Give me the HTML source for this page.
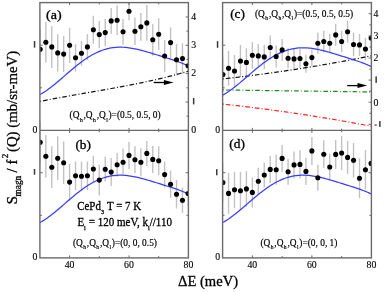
<!DOCTYPE html><html><head><meta charset="utf-8"><style>html,body{margin:0;padding:0;background:#fff;overflow:hidden;}svg{display:block;will-change:transform;}text{font-family:"Liberation Serif",serif;fill:#000;stroke:#000;stroke-width:0.3px;}</style></head><body>
<svg width="384" height="292" viewBox="0 0 384 292">
<defs><clipPath id="cl"><rect x="39.9" y="2.6" width="148.5" height="255.3"/></clipPath><clipPath id="cr"><rect x="222.6" y="2.6" width="148.8" height="255.3"/></clipPath></defs>
<g clip-path="url(#cl)">
<g stroke="#c2c2c2" stroke-width="1.4">
<line x1="39.90" y1="29.20" x2="39.90" y2="69.20"/>
<line x1="45.84" y1="22.00" x2="45.84" y2="62.60"/>
<line x1="51.78" y1="25.90" x2="51.78" y2="67.90"/>
<line x1="57.72" y1="34.20" x2="57.72" y2="71.60"/>
<line x1="63.66" y1="36.10" x2="63.66" y2="72.10"/>
<line x1="69.60" y1="27.80" x2="69.60" y2="62.80"/>
<line x1="75.54" y1="44.00" x2="75.54" y2="71.40"/>
<line x1="81.48" y1="40.80" x2="81.48" y2="65.80"/>
<line x1="87.42" y1="33.90" x2="87.42" y2="59.90"/>
<line x1="93.36" y1="15.80" x2="93.36" y2="43.80"/>
<line x1="99.30" y1="20.90" x2="99.30" y2="48.30"/>
<line x1="105.24" y1="18.90" x2="105.24" y2="46.30"/>
<line x1="111.18" y1="7.90" x2="111.18" y2="33.90"/>
<line x1="117.12" y1="5.60" x2="117.12" y2="35.00"/>
<line x1="123.06" y1="18.90" x2="123.06" y2="44.70"/>
<line x1="129.00" y1="2.30" x2="129.00" y2="20.30"/>
<line x1="134.94" y1="17.50" x2="134.94" y2="44.90"/>
<line x1="140.88" y1="12.90" x2="140.88" y2="40.70"/>
<line x1="146.82" y1="5.00" x2="146.82" y2="40.80"/>
<line x1="152.76" y1="23.90" x2="152.76" y2="55.70"/>
<line x1="158.70" y1="18.30" x2="158.70" y2="50.10"/>
<line x1="164.64" y1="39.80" x2="164.64" y2="72.20"/>
<line x1="170.58" y1="27.40" x2="170.58" y2="57.80"/>
<line x1="176.52" y1="44.10" x2="176.52" y2="75.50"/>
<line x1="182.46" y1="43.30" x2="182.46" y2="73.70"/>
<line x1="188.40" y1="50.80" x2="188.40" y2="80.80"/>
<line x1="39.90" y1="121.30" x2="39.90" y2="163.30"/>
<line x1="45.84" y1="135.00" x2="45.84" y2="177.40"/>
<line x1="51.78" y1="146.30" x2="51.78" y2="188.10"/>
<line x1="57.72" y1="136.30" x2="57.72" y2="180.10"/>
<line x1="63.66" y1="141.50" x2="63.66" y2="184.10"/>
<line x1="69.60" y1="163.80" x2="69.60" y2="200.40"/>
<line x1="75.54" y1="161.40" x2="75.54" y2="190.00"/>
<line x1="81.48" y1="161.80" x2="81.48" y2="190.80"/>
<line x1="87.42" y1="161.40" x2="87.42" y2="190.00"/>
<line x1="93.36" y1="155.80" x2="93.36" y2="182.20"/>
<line x1="99.30" y1="164.80" x2="99.30" y2="195.40"/>
<line x1="105.24" y1="156.80" x2="105.24" y2="181.60"/>
<line x1="111.18" y1="158.10" x2="111.18" y2="186.10"/>
<line x1="117.12" y1="152.90" x2="117.12" y2="176.70"/>
<line x1="123.06" y1="148.50" x2="123.06" y2="175.90"/>
<line x1="129.00" y1="141.90" x2="129.00" y2="168.90"/>
<line x1="134.94" y1="146.30" x2="134.94" y2="173.30"/>
<line x1="140.88" y1="148.30" x2="140.88" y2="176.10"/>
<line x1="146.82" y1="140.90" x2="146.82" y2="165.90"/>
<line x1="152.76" y1="145.90" x2="152.76" y2="172.90"/>
<line x1="158.70" y1="146.30" x2="158.70" y2="175.30"/>
<line x1="164.64" y1="161.60" x2="164.64" y2="187.60"/>
<line x1="170.58" y1="170.70" x2="170.58" y2="197.70"/>
<line x1="176.52" y1="180.00" x2="176.52" y2="208.60"/>
<line x1="182.46" y1="187.70" x2="182.46" y2="212.70"/>
<line x1="188.40" y1="180.50" x2="188.40" y2="206.50"/>
</g>
<polyline points="38.90,101.66 41.45,101.15 44.00,100.64 46.55,100.14 49.10,99.64 51.65,99.15 54.21,98.67 56.76,98.20 59.31,97.72 61.86,97.26 64.41,96.79 66.96,96.33 69.51,95.88 72.06,95.43 74.61,94.97 77.16,94.53 79.71,94.08 82.26,93.64 84.82,93.19 87.37,92.75 89.92,92.30 92.47,91.86 95.02,91.42 97.57,90.97 100.12,90.53 102.67,90.08 105.22,89.63 107.77,89.17 110.32,88.72 112.87,88.26 115.43,87.79 117.98,87.33 120.53,86.85 123.08,86.38 125.63,85.89 128.18,85.40 130.73,84.91 133.28,84.41 135.83,83.90 138.38,83.38 140.93,82.86 143.48,82.32 146.04,81.78 148.59,81.23 151.14,80.67 153.69,80.10 156.24,79.52 158.79,78.93 161.34,78.33 163.89,77.71 166.44,77.09 168.99,76.45 171.54,75.80 174.09,75.14 176.65,74.46 179.20,73.77 181.75,73.06 184.30,72.34 186.85,71.61 189.40,70.86" fill="none" stroke="#111" stroke-width="1.2" stroke-dasharray="4.6 2.1 1 2.05" stroke-dashoffset="5.45"/>
<polyline points="39.90,94.57 41.38,93.75 42.87,92.87 44.35,91.94 45.84,90.96 47.32,89.93 48.81,88.86 50.30,87.75 51.78,86.61 53.27,85.43 54.75,84.23 56.23,83.01 57.72,81.76 59.20,80.50 60.69,79.22 62.17,77.94 63.66,76.65 65.14,75.36 66.63,74.07 68.11,72.78 69.60,71.50 71.08,70.23 72.57,68.98 74.06,67.74 75.54,66.53 77.03,65.33 78.51,64.16 80.00,63.02 81.48,61.90 82.97,60.82 84.45,59.76 85.94,58.75 87.42,57.77 88.91,56.83 90.39,55.93 91.88,55.07 93.36,54.25 94.84,53.47 96.33,52.74 97.81,52.06 99.30,51.41 100.78,50.82 102.27,50.27 103.75,49.77 105.24,49.31 106.72,48.90 108.21,48.53 109.69,48.21 111.18,47.94 112.66,47.71 114.15,47.52 115.63,47.37 117.12,47.27 118.60,47.21 120.09,47.18 121.57,47.20 123.06,47.25 124.54,47.34 126.03,47.46 127.51,47.62 129.00,47.80 130.48,48.02 131.97,48.26 133.46,48.53 134.94,48.82 136.43,49.14 137.91,49.48 139.40,49.83 140.88,50.20 142.37,50.59 143.85,50.99 145.34,51.41 146.82,51.83 148.31,52.26 149.79,52.70 151.28,53.15 152.76,53.60 154.25,54.06 155.73,54.52 157.22,54.98 158.70,55.45 160.19,55.91 161.67,56.37 163.16,56.84 164.64,57.31 166.12,57.77 167.61,58.24 169.09,58.71 170.58,59.19 172.06,59.67 173.55,60.15 175.03,60.65 176.52,61.16 178.00,61.68 179.49,62.22 180.97,62.78 182.46,63.36 183.94,63.98 185.43,64.63 186.91,65.32 188.40,66.06" fill="none" stroke="#3c3cff" stroke-width="1.25"/>
<polyline points="39.90,222.57 41.38,221.75 42.87,220.87 44.35,219.94 45.84,218.96 47.32,217.93 48.81,216.86 50.30,215.75 51.78,214.61 53.27,213.43 54.75,212.23 56.23,211.01 57.72,209.76 59.20,208.50 60.69,207.22 62.17,205.94 63.66,204.65 65.14,203.36 66.63,202.07 68.11,200.78 69.60,199.50 71.08,198.23 72.57,196.98 74.06,195.74 75.54,194.53 77.03,193.33 78.51,192.16 80.00,191.02 81.48,189.90 82.97,188.82 84.45,187.76 85.94,186.75 87.42,185.77 88.91,184.83 90.39,183.93 91.88,183.07 93.36,182.25 94.84,181.47 96.33,180.74 97.81,180.06 99.30,179.41 100.78,178.82 102.27,178.27 103.75,177.77 105.24,177.31 106.72,176.90 108.21,176.53 109.69,176.21 111.18,175.94 112.66,175.71 114.15,175.52 115.63,175.37 117.12,175.27 118.60,175.21 120.09,175.18 121.57,175.20 123.06,175.25 124.54,175.34 126.03,175.46 127.51,175.62 129.00,175.80 130.48,176.02 131.97,176.26 133.46,176.53 134.94,176.82 136.43,177.14 137.91,177.48 139.40,177.83 140.88,178.20 142.37,178.59 143.85,178.99 145.34,179.41 146.82,179.83 148.31,180.26 149.79,180.70 151.28,181.15 152.76,181.60 154.25,182.06 155.73,182.52 157.22,182.98 158.70,183.45 160.19,183.91 161.67,184.37 163.16,184.84 164.64,185.31 166.12,185.77 167.61,186.24 169.09,186.71 170.58,187.19 172.06,187.67 173.55,188.15 175.03,188.65 176.52,189.16 178.00,189.68 179.49,190.22 180.97,190.78 182.46,191.36 183.94,191.98 185.43,192.63 186.91,193.32 188.40,194.06" fill="none" stroke="#3c3cff" stroke-width="1.25"/>
<g fill="#000">
<circle cx="40.20" cy="49.20" r="2.55"/>
<circle cx="45.84" cy="42.30" r="2.55"/>
<circle cx="51.78" cy="46.90" r="2.55"/>
<circle cx="57.72" cy="52.90" r="2.55"/>
<circle cx="63.66" cy="54.10" r="2.55"/>
<circle cx="69.60" cy="45.30" r="2.55"/>
<circle cx="75.54" cy="57.70" r="2.55"/>
<circle cx="81.48" cy="53.30" r="2.55"/>
<circle cx="87.42" cy="46.90" r="2.55"/>
<circle cx="93.36" cy="29.80" r="2.55"/>
<circle cx="99.30" cy="34.60" r="2.55"/>
<circle cx="105.24" cy="32.60" r="2.55"/>
<circle cx="111.18" cy="20.90" r="2.55"/>
<circle cx="117.12" cy="20.30" r="2.55"/>
<circle cx="123.06" cy="31.80" r="2.55"/>
<circle cx="129.00" cy="11.30" r="2.55"/>
<circle cx="134.94" cy="31.20" r="2.55"/>
<circle cx="140.88" cy="26.80" r="2.55"/>
<circle cx="146.82" cy="22.90" r="2.55"/>
<circle cx="152.76" cy="39.80" r="2.55"/>
<circle cx="158.70" cy="34.20" r="2.55"/>
<circle cx="164.64" cy="56.00" r="2.55"/>
<circle cx="170.58" cy="42.60" r="2.55"/>
<circle cx="176.52" cy="59.80" r="2.55"/>
<circle cx="182.46" cy="58.50" r="2.55"/>
<circle cx="188.10" cy="65.80" r="2.55"/>
<circle cx="40.20" cy="142.30" r="2.55"/>
<circle cx="45.84" cy="156.20" r="2.55"/>
<circle cx="51.78" cy="167.20" r="2.55"/>
<circle cx="57.72" cy="158.20" r="2.55"/>
<circle cx="63.66" cy="162.80" r="2.55"/>
<circle cx="69.60" cy="182.10" r="2.55"/>
<circle cx="75.54" cy="175.70" r="2.55"/>
<circle cx="81.48" cy="176.30" r="2.55"/>
<circle cx="87.42" cy="175.70" r="2.55"/>
<circle cx="93.36" cy="169.00" r="2.55"/>
<circle cx="99.30" cy="180.10" r="2.55"/>
<circle cx="105.24" cy="169.20" r="2.55"/>
<circle cx="111.18" cy="172.10" r="2.55"/>
<circle cx="117.12" cy="164.80" r="2.55"/>
<circle cx="123.06" cy="162.20" r="2.55"/>
<circle cx="129.00" cy="155.40" r="2.55"/>
<circle cx="134.94" cy="159.80" r="2.55"/>
<circle cx="140.88" cy="162.20" r="2.55"/>
<circle cx="146.82" cy="153.40" r="2.55"/>
<circle cx="152.76" cy="159.40" r="2.55"/>
<circle cx="158.70" cy="160.80" r="2.55"/>
<circle cx="164.64" cy="174.60" r="2.55"/>
<circle cx="170.58" cy="184.20" r="2.55"/>
<circle cx="176.52" cy="194.30" r="2.55"/>
<circle cx="182.46" cy="200.20" r="2.55"/>
<circle cx="188.10" cy="193.50" r="2.55"/>
</g></g>
<g clip-path="url(#cr)">
<g stroke="#c2c2c2" stroke-width="1.4">
<line x1="222.60" y1="57.60" x2="222.60" y2="91.60"/>
<line x1="228.55" y1="50.90" x2="228.55" y2="85.50"/>
<line x1="234.50" y1="55.00" x2="234.50" y2="87.00"/>
<line x1="240.46" y1="45.00" x2="240.46" y2="77.00"/>
<line x1="246.41" y1="48.30" x2="246.41" y2="76.50"/>
<line x1="252.36" y1="42.00" x2="252.36" y2="68.60"/>
<line x1="258.31" y1="43.90" x2="258.31" y2="67.90"/>
<line x1="264.26" y1="44.90" x2="264.26" y2="68.90"/>
<line x1="270.22" y1="35.50" x2="270.22" y2="59.50"/>
<line x1="276.17" y1="45.50" x2="276.17" y2="67.50"/>
<line x1="282.12" y1="38.90" x2="282.12" y2="60.90"/>
<line x1="288.07" y1="48.30" x2="288.07" y2="68.30"/>
<line x1="294.02" y1="48.90" x2="294.02" y2="68.90"/>
<line x1="299.98" y1="49.00" x2="299.98" y2="68.00"/>
<line x1="305.93" y1="54.80" x2="305.93" y2="72.80"/>
<line x1="311.88" y1="49.40" x2="311.88" y2="65.80"/>
<line x1="317.83" y1="32.80" x2="317.83" y2="53.80"/>
<line x1="323.78" y1="30.80" x2="323.78" y2="52.20"/>
<line x1="329.74" y1="33.70" x2="329.74" y2="52.90"/>
<line x1="335.69" y1="23.90" x2="335.69" y2="45.90"/>
<line x1="341.64" y1="30.80" x2="341.64" y2="52.20"/>
<line x1="347.59" y1="20.80" x2="347.59" y2="42.80"/>
<line x1="353.54" y1="32.80" x2="353.54" y2="56.20"/>
<line x1="359.50" y1="33.90" x2="359.50" y2="55.90"/>
<line x1="365.45" y1="38.00" x2="365.45" y2="60.00"/>
<line x1="371.40" y1="27.10" x2="371.40" y2="49.10"/>
<line x1="222.60" y1="162.50" x2="222.60" y2="202.50"/>
<line x1="228.55" y1="173.10" x2="228.55" y2="213.70"/>
<line x1="234.50" y1="171.70" x2="234.50" y2="207.90"/>
<line x1="240.46" y1="171.70" x2="240.46" y2="209.90"/>
<line x1="246.41" y1="171.30" x2="246.41" y2="206.50"/>
<line x1="252.36" y1="177.40" x2="252.36" y2="207.40"/>
<line x1="258.31" y1="167.80" x2="258.31" y2="194.80"/>
<line x1="264.26" y1="162.80" x2="264.26" y2="187.20"/>
<line x1="270.22" y1="155.80" x2="270.22" y2="183.00"/>
<line x1="276.17" y1="154.80" x2="276.17" y2="184.80"/>
<line x1="282.12" y1="144.90" x2="282.12" y2="171.90"/>
<line x1="288.07" y1="158.80" x2="288.07" y2="184.80"/>
<line x1="294.02" y1="151.50" x2="294.02" y2="178.30"/>
<line x1="299.98" y1="150.30" x2="299.98" y2="178.50"/>
<line x1="305.93" y1="157.80" x2="305.93" y2="185.00"/>
<line x1="311.88" y1="136.90" x2="311.88" y2="164.90"/>
<line x1="317.83" y1="164.80" x2="317.83" y2="190.80"/>
<line x1="323.78" y1="140.30" x2="323.78" y2="168.10"/>
<line x1="329.74" y1="153.80" x2="329.74" y2="180.20"/>
<line x1="335.69" y1="139.90" x2="335.69" y2="168.90"/>
<line x1="341.64" y1="136.00" x2="341.64" y2="170.00"/>
<line x1="347.59" y1="140.90" x2="347.59" y2="173.90"/>
<line x1="353.54" y1="142.90" x2="353.54" y2="177.50"/>
<line x1="359.50" y1="158.20" x2="359.50" y2="198.20"/>
<line x1="365.45" y1="150.00" x2="365.45" y2="189.60"/>
<line x1="371.40" y1="144.40" x2="371.40" y2="182.40"/>
</g>
<polyline points="221.60,79.05 224.16,78.77 226.71,78.49 229.27,78.20 231.82,77.91 234.38,77.61 236.94,77.31 239.49,77.01 242.05,76.70 244.60,76.39 247.16,76.07 249.72,75.75 252.27,75.42 254.83,75.10 257.38,74.76 259.94,74.43 262.49,74.09 265.05,73.74 267.61,73.39 270.16,73.04 272.72,72.68 275.27,72.32 277.83,71.96 280.39,71.59 282.94,71.22 285.50,70.84 288.05,70.46 290.61,70.07 293.17,69.68 295.72,69.29 298.28,68.89 300.83,68.49 303.39,68.09 305.95,67.68 308.50,67.26 311.06,66.85 313.61,66.43 316.17,66.00 318.73,65.57 321.28,65.14 323.84,64.70 326.39,64.26 328.95,63.81 331.51,63.36 334.06,62.91 336.62,62.45 339.17,61.99 341.73,61.53 344.28,61.06 346.84,60.58 349.40,60.10 351.95,59.62 354.51,59.14 357.06,58.65 359.62,58.15 362.18,57.66 364.73,57.15 367.29,56.65 369.84,56.14 372.40,55.62" fill="none" stroke="#111" stroke-width="1.2" stroke-dasharray="4.6 2.1 1 2.05" stroke-dashoffset="5.45"/>
<polyline points="221.60,89.95 224.16,89.98 226.71,90.02 229.27,90.05 231.82,90.08 234.38,90.12 236.94,90.15 239.49,90.19 242.05,90.22 244.60,90.25 247.16,90.29 249.72,90.32 252.27,90.36 254.83,90.39 257.38,90.42 259.94,90.46 262.49,90.49 265.05,90.53 267.61,90.56 270.16,90.59 272.72,90.63 275.27,90.66 277.83,90.69 280.39,90.73 282.94,90.76 285.50,90.80 288.05,90.83 290.61,90.86 293.17,90.90 295.72,90.93 298.28,90.97 300.83,91.00 303.39,91.03 305.95,91.07 308.50,91.10 311.06,91.14 313.61,91.17 316.17,91.20 318.73,91.24 321.28,91.27 323.84,91.31 326.39,91.34 328.95,91.37 331.51,91.41 334.06,91.44 336.62,91.47 339.17,91.51 341.73,91.54 344.28,91.58 346.84,91.61 349.40,91.64 351.95,91.68 354.51,91.71 357.06,91.75 359.62,91.78 362.18,91.81 364.73,91.85 367.29,91.88 369.84,91.92 372.40,91.95" fill="none" stroke="#1a8a1a" stroke-width="1.2" stroke-dasharray="4.6 2.1 1 2.05" stroke-dashoffset="5.45"/>
<polyline points="221.60,103.97 224.16,104.25 226.71,104.52 229.27,104.80 231.82,105.08 234.38,105.37 236.94,105.66 239.49,105.96 242.05,106.26 244.60,106.56 247.16,106.86 249.72,107.17 252.27,107.49 254.83,107.80 257.38,108.12 259.94,108.45 262.49,108.78 265.05,109.11 267.61,109.44 270.16,109.78 272.72,110.13 275.27,110.48 277.83,110.83 280.39,111.18 282.94,111.54 285.50,111.90 288.05,112.27 290.61,112.64 293.17,113.01 295.72,113.39 298.28,113.77 300.83,114.16 303.39,114.54 305.95,114.94 308.50,115.33 311.06,115.73 313.61,116.14 316.17,116.54 318.73,116.96 321.28,117.37 323.84,117.79 326.39,118.21 328.95,118.64 331.51,119.07 334.06,119.50 336.62,119.94 339.17,120.38 341.73,120.83 344.28,121.28 346.84,121.73 349.40,122.19 351.95,122.65 354.51,123.11 357.06,123.58 359.62,124.05 362.18,124.53 364.73,125.01 367.29,125.49 369.84,125.98 372.40,126.47" fill="none" stroke="#ff2020" stroke-width="1.2" stroke-dasharray="4.6 2.1 1 2.05" stroke-dashoffset="5.45"/>
<polyline points="222.60,95.17 224.09,94.35 225.58,93.47 227.06,92.54 228.55,91.56 230.04,90.53 231.53,89.46 233.02,88.35 234.50,87.21 235.99,86.03 237.48,84.83 238.97,83.61 240.46,82.36 241.94,81.10 243.43,79.82 244.92,78.54 246.41,77.25 247.90,75.96 249.38,74.67 250.87,73.38 252.36,72.10 253.85,70.83 255.34,69.58 256.82,68.34 258.31,67.13 259.80,65.93 261.29,64.76 262.78,63.62 264.26,62.50 265.75,61.42 267.24,60.36 268.73,59.35 270.22,58.37 271.70,57.43 273.19,56.53 274.68,55.67 276.17,54.85 277.66,54.07 279.14,53.34 280.63,52.66 282.12,52.01 283.61,51.42 285.10,50.87 286.58,50.37 288.07,49.91 289.56,49.50 291.05,49.13 292.54,48.81 294.02,48.54 295.51,48.31 297.00,48.12 298.49,47.97 299.98,47.87 301.46,47.81 302.95,47.78 304.44,47.80 305.93,47.85 307.42,47.94 308.90,48.06 310.39,48.22 311.88,48.40 313.37,48.62 314.86,48.86 316.34,49.13 317.83,49.42 319.32,49.74 320.81,50.08 322.30,50.43 323.78,50.80 325.27,51.19 326.76,51.59 328.25,52.01 329.74,52.43 331.22,52.86 332.71,53.30 334.20,53.75 335.69,54.20 337.18,54.66 338.66,55.12 340.15,55.58 341.64,56.05 343.13,56.51 344.62,56.97 346.10,57.44 347.59,57.91 349.08,58.37 350.57,58.84 352.06,59.31 353.54,59.79 355.03,60.27 356.52,60.75 358.01,61.25 359.50,61.76 360.98,62.28 362.47,62.82 363.96,63.38 365.45,63.96 366.94,64.58 368.42,65.23 369.91,65.92 371.40,66.66" fill="none" stroke="#3c3cff" stroke-width="1.25"/>
<polyline points="222.60,222.57 224.09,221.75 225.58,220.87 227.06,219.94 228.55,218.96 230.04,217.93 231.53,216.86 233.02,215.75 234.50,214.61 235.99,213.43 237.48,212.23 238.97,211.01 240.46,209.76 241.94,208.50 243.43,207.22 244.92,205.94 246.41,204.65 247.90,203.36 249.38,202.07 250.87,200.78 252.36,199.50 253.85,198.23 255.34,196.98 256.82,195.74 258.31,194.53 259.80,193.33 261.29,192.16 262.78,191.02 264.26,189.90 265.75,188.82 267.24,187.76 268.73,186.75 270.22,185.77 271.70,184.83 273.19,183.93 274.68,183.07 276.17,182.25 277.66,181.47 279.14,180.74 280.63,180.06 282.12,179.41 283.61,178.82 285.10,178.27 286.58,177.77 288.07,177.31 289.56,176.90 291.05,176.53 292.54,176.21 294.02,175.94 295.51,175.71 297.00,175.52 298.49,175.37 299.98,175.27 301.46,175.21 302.95,175.18 304.44,175.20 305.93,175.25 307.42,175.34 308.90,175.46 310.39,175.62 311.88,175.80 313.37,176.02 314.86,176.26 316.34,176.53 317.83,176.82 319.32,177.14 320.81,177.48 322.30,177.83 323.78,178.20 325.27,178.59 326.76,178.99 328.25,179.41 329.74,179.83 331.22,180.26 332.71,180.70 334.20,181.15 335.69,181.60 337.18,182.06 338.66,182.52 340.15,182.98 341.64,183.45 343.13,183.91 344.62,184.37 346.10,184.84 347.59,185.31 349.08,185.77 350.57,186.24 352.06,186.71 353.54,187.19 355.03,187.67 356.52,188.15 358.01,188.65 359.50,189.16 360.98,189.68 362.47,190.22 363.96,190.78 365.45,191.36 366.94,191.98 368.42,192.63 369.91,193.32 371.40,194.06" fill="none" stroke="#3c3cff" stroke-width="1.25"/>
<g fill="#000">
<circle cx="222.90" cy="74.60" r="2.55"/>
<circle cx="228.55" cy="68.20" r="2.55"/>
<circle cx="234.50" cy="71.00" r="2.55"/>
<circle cx="240.46" cy="61.00" r="2.55"/>
<circle cx="246.41" cy="62.40" r="2.55"/>
<circle cx="252.36" cy="55.30" r="2.55"/>
<circle cx="258.31" cy="55.90" r="2.55"/>
<circle cx="264.26" cy="56.90" r="2.55"/>
<circle cx="270.22" cy="47.50" r="2.55"/>
<circle cx="276.17" cy="56.50" r="2.55"/>
<circle cx="282.12" cy="49.90" r="2.55"/>
<circle cx="288.07" cy="58.30" r="2.55"/>
<circle cx="294.02" cy="58.90" r="2.55"/>
<circle cx="299.98" cy="58.50" r="2.55"/>
<circle cx="305.93" cy="63.80" r="2.55"/>
<circle cx="311.88" cy="57.60" r="2.55"/>
<circle cx="317.83" cy="43.30" r="2.55"/>
<circle cx="323.78" cy="41.50" r="2.55"/>
<circle cx="329.74" cy="43.30" r="2.55"/>
<circle cx="335.69" cy="34.90" r="2.55"/>
<circle cx="341.64" cy="41.50" r="2.55"/>
<circle cx="347.59" cy="31.80" r="2.55"/>
<circle cx="353.54" cy="44.50" r="2.55"/>
<circle cx="359.50" cy="44.90" r="2.55"/>
<circle cx="365.45" cy="49.00" r="2.55"/>
<circle cx="371.10" cy="38.10" r="2.55"/>
<circle cx="222.90" cy="182.50" r="2.55"/>
<circle cx="228.55" cy="193.40" r="2.55"/>
<circle cx="234.50" cy="189.80" r="2.55"/>
<circle cx="240.46" cy="190.80" r="2.55"/>
<circle cx="246.41" cy="188.90" r="2.55"/>
<circle cx="252.36" cy="192.40" r="2.55"/>
<circle cx="258.31" cy="181.30" r="2.55"/>
<circle cx="264.26" cy="175.00" r="2.55"/>
<circle cx="270.22" cy="169.40" r="2.55"/>
<circle cx="276.17" cy="169.80" r="2.55"/>
<circle cx="282.12" cy="158.40" r="2.55"/>
<circle cx="288.07" cy="171.80" r="2.55"/>
<circle cx="294.02" cy="164.90" r="2.55"/>
<circle cx="299.98" cy="164.40" r="2.55"/>
<circle cx="305.93" cy="171.40" r="2.55"/>
<circle cx="311.88" cy="150.90" r="2.55"/>
<circle cx="317.83" cy="177.80" r="2.55"/>
<circle cx="323.78" cy="154.20" r="2.55"/>
<circle cx="329.74" cy="167.00" r="2.55"/>
<circle cx="335.69" cy="154.40" r="2.55"/>
<circle cx="341.64" cy="153.00" r="2.55"/>
<circle cx="347.59" cy="157.40" r="2.55"/>
<circle cx="353.54" cy="160.20" r="2.55"/>
<circle cx="359.50" cy="178.20" r="2.55"/>
<circle cx="365.45" cy="169.80" r="2.55"/>
<circle cx="371.10" cy="163.40" r="2.55"/>
</g></g>
<line x1="153.7" y1="82.5" x2="168.6" y2="82.5" stroke="#000" stroke-width="1.3"/><polygon points="173.6,82.5 163.9,80.0 163.9,85.0" fill="#000"/>
<line x1="347.2" y1="85.6" x2="362.2" y2="85.6" stroke="#000" stroke-width="1.3"/><polygon points="367.2,85.6 357.5,83.1 357.5,88.1" fill="#000"/>
<g stroke="#6a6a6a" fill="none">
<rect x="39.9" y="2.6" width="148.50" height="255.30" stroke-width="1.4"/>
<line x1="39.9" y1="130.4" x2="188.4" y2="130.4" stroke-width="1.4"/>
<line x1="69.60" y1="2.6" x2="69.60" y2="5.1" stroke-width="1"/>
<line x1="69.60" y1="130.4" x2="69.60" y2="127.9" stroke-width="1"/>
<line x1="69.60" y1="130.4" x2="69.60" y2="132.9" stroke-width="1"/>
<line x1="69.60" y1="257.9" x2="69.60" y2="255.39999999999998" stroke-width="1"/>
<line x1="99.30" y1="2.6" x2="99.30" y2="4.4" stroke-width="1"/>
<line x1="99.30" y1="130.4" x2="99.30" y2="128.6" stroke-width="1"/>
<line x1="99.30" y1="130.4" x2="99.30" y2="132.20000000000002" stroke-width="1"/>
<line x1="99.30" y1="257.9" x2="99.30" y2="256.09999999999997" stroke-width="1"/>
<line x1="129.00" y1="2.6" x2="129.00" y2="5.1" stroke-width="1"/>
<line x1="129.00" y1="130.4" x2="129.00" y2="127.9" stroke-width="1"/>
<line x1="129.00" y1="130.4" x2="129.00" y2="132.9" stroke-width="1"/>
<line x1="129.00" y1="257.9" x2="129.00" y2="255.39999999999998" stroke-width="1"/>
<line x1="158.70" y1="2.6" x2="158.70" y2="4.4" stroke-width="1"/>
<line x1="158.70" y1="130.4" x2="158.70" y2="128.6" stroke-width="1"/>
<line x1="158.70" y1="130.4" x2="158.70" y2="132.20000000000002" stroke-width="1"/>
<line x1="158.70" y1="257.9" x2="158.70" y2="256.09999999999997" stroke-width="1"/>
<line x1="39.9" y1="87.80" x2="41.9" y2="87.80" stroke-width="1"/>
<line x1="39.9" y1="45.20" x2="42.699999999999996" y2="45.20" stroke-width="1"/>
<line x1="39.9" y1="215.30" x2="41.9" y2="215.30" stroke-width="1"/>
<line x1="188.4" y1="215.30" x2="186.4" y2="215.30" stroke-width="1"/>
<line x1="39.9" y1="172.70" x2="42.699999999999996" y2="172.70" stroke-width="1"/>
<line x1="188.4" y1="172.70" x2="185.6" y2="172.70" stroke-width="1"/>
<rect x="222.6" y="2.6" width="148.80" height="255.30" stroke-width="1.4"/>
<line x1="222.6" y1="130.4" x2="371.4" y2="130.4" stroke-width="1.4"/>
<line x1="252.36" y1="2.6" x2="252.36" y2="5.1" stroke-width="1"/>
<line x1="252.36" y1="130.4" x2="252.36" y2="127.9" stroke-width="1"/>
<line x1="252.36" y1="130.4" x2="252.36" y2="132.9" stroke-width="1"/>
<line x1="252.36" y1="257.9" x2="252.36" y2="255.39999999999998" stroke-width="1"/>
<line x1="282.12" y1="2.6" x2="282.12" y2="4.4" stroke-width="1"/>
<line x1="282.12" y1="130.4" x2="282.12" y2="128.6" stroke-width="1"/>
<line x1="282.12" y1="130.4" x2="282.12" y2="132.20000000000002" stroke-width="1"/>
<line x1="282.12" y1="257.9" x2="282.12" y2="256.09999999999997" stroke-width="1"/>
<line x1="311.88" y1="2.6" x2="311.88" y2="5.1" stroke-width="1"/>
<line x1="311.88" y1="130.4" x2="311.88" y2="127.9" stroke-width="1"/>
<line x1="311.88" y1="130.4" x2="311.88" y2="132.9" stroke-width="1"/>
<line x1="311.88" y1="257.9" x2="311.88" y2="255.39999999999998" stroke-width="1"/>
<line x1="341.64" y1="2.6" x2="341.64" y2="4.4" stroke-width="1"/>
<line x1="341.64" y1="130.4" x2="341.64" y2="128.6" stroke-width="1"/>
<line x1="341.64" y1="130.4" x2="341.64" y2="132.20000000000002" stroke-width="1"/>
<line x1="341.64" y1="257.9" x2="341.64" y2="256.09999999999997" stroke-width="1"/>
<line x1="222.6" y1="87.80" x2="224.6" y2="87.80" stroke-width="1"/>
<line x1="222.6" y1="45.20" x2="225.4" y2="45.20" stroke-width="1"/>
<line x1="222.6" y1="215.30" x2="224.6" y2="215.30" stroke-width="1"/>
<line x1="371.4" y1="215.30" x2="369.4" y2="215.30" stroke-width="1"/>
<line x1="222.6" y1="172.70" x2="225.4" y2="172.70" stroke-width="1"/>
<line x1="371.4" y1="172.70" x2="368.59999999999997" y2="172.70" stroke-width="1"/>
<line x1="188.4" y1="130.30" x2="185.6" y2="130.30" stroke-width="1"/>
<line x1="188.4" y1="116.14" x2="186.4" y2="116.14" stroke-width="1"/>
<line x1="188.4" y1="101.97" x2="185.6" y2="101.97" stroke-width="1"/>
<line x1="188.4" y1="87.81" x2="186.4" y2="87.81" stroke-width="1"/>
<line x1="188.4" y1="73.64" x2="185.6" y2="73.64" stroke-width="1"/>
<line x1="188.4" y1="59.48" x2="186.4" y2="59.48" stroke-width="1"/>
<line x1="188.4" y1="45.31" x2="185.6" y2="45.31" stroke-width="1"/>
<line x1="188.4" y1="31.15" x2="186.4" y2="31.15" stroke-width="1"/>
<line x1="188.4" y1="16.98" x2="185.6" y2="16.98" stroke-width="1"/>
<line x1="371.4" y1="124.30" x2="368.59999999999997" y2="124.30" stroke-width="1"/>
<line x1="371.4" y1="113.25" x2="369.4" y2="113.25" stroke-width="1"/>
<line x1="371.4" y1="102.20" x2="368.59999999999997" y2="102.20" stroke-width="1"/>
<line x1="371.4" y1="91.15" x2="369.4" y2="91.15" stroke-width="1"/>
<line x1="371.4" y1="80.10" x2="368.59999999999997" y2="80.10" stroke-width="1"/>
<line x1="371.4" y1="69.05" x2="369.4" y2="69.05" stroke-width="1"/>
<line x1="371.4" y1="58.00" x2="368.59999999999997" y2="58.00" stroke-width="1"/>
<line x1="371.4" y1="46.95" x2="369.4" y2="46.95" stroke-width="1"/>
<line x1="371.4" y1="35.90" x2="368.59999999999997" y2="35.90" stroke-width="1"/>
<line x1="371.4" y1="24.85" x2="369.4" y2="24.85" stroke-width="1"/>
<line x1="371.4" y1="13.80" x2="368.59999999999997" y2="13.80" stroke-width="1"/>
</g>
<text x="37.4" y="132.70000000000002" font-size="9.8" text-anchor="end" style="stroke-width:0.12px">0</text>
<text x="37.4" y="260.2" font-size="9.8" text-anchor="end" style="stroke-width:0.12px">0</text>
<text x="220.1" y="132.70000000000002" font-size="9.8" text-anchor="end" style="stroke-width:0.12px">0</text>
<text x="220.1" y="260.2" font-size="9.8" text-anchor="end" style="stroke-width:0.12px">0</text>
<text x="69.60" y="268.1" font-size="9.8" text-anchor="middle" style="stroke-width:0.12px">40</text>
<text x="129.00" y="268.1" font-size="9.8" text-anchor="middle" style="stroke-width:0.12px">60</text>
<text x="188.40" y="268.1" font-size="9.8" text-anchor="middle" style="stroke-width:0.12px">80</text>
<text x="252.36" y="268.1" font-size="9.8" text-anchor="middle" style="stroke-width:0.12px">40</text>
<text x="311.88" y="268.1" font-size="9.8" text-anchor="middle" style="stroke-width:0.12px">60</text>
<text x="371.40" y="268.1" font-size="9.8" text-anchor="middle" style="stroke-width:0.12px">80</text>
<text x="191.2" y="133.10000000000002" font-size="9.8" text-anchor="start" style="stroke-width:0.12px">0</text>
<text x="191.2" y="76.44000000000001" font-size="9.8" text-anchor="start" style="stroke-width:0.12px">2</text>
<text x="191.2" y="48.110000000000014" font-size="9.8" text-anchor="start" style="stroke-width:0.12px">3</text>
<text x="191.2" y="19.78000000000002" font-size="9.8" text-anchor="start" style="stroke-width:0.12px">4</text>
<text x="373.6" y="105.5" font-size="9.8" text-anchor="start" style="stroke-width:0.12px">0</text>
<text x="373.6" y="61.3" font-size="9.8" text-anchor="start" style="stroke-width:0.12px">2</text>
<text x="373.6" y="39.19999999999999" font-size="9.8" text-anchor="start" style="stroke-width:0.12px">3</text>
<text x="373.6" y="17.099999999999998" font-size="9.8" text-anchor="start" style="stroke-width:0.12px">4</text>
<g fill="#3a3a3a">
<rect x="33.8" y="41.05" width="1.5" height="6.60"/>
<rect x="33.75" y="168.95000000000002" width="1.5" height="5.75"/>
<rect x="216.8" y="41.15" width="1.5" height="6.60"/>
<rect x="216.0" y="169.15" width="1.5" height="6.10"/>
<rect x="192.9" y="97.95" width="1.5" height="6.40"/>
<rect x="375.4" y="76.35000000000001" width="1.5" height="6.50"/>
<rect x="379.1" y="121.05000000000001" width="1.5" height="5.80"/>
<rect x="374.4" y="124.5" width="2.4" height="1.1"/>
</g>
<text x="46.0" y="19.2" font-size="12.0" textLength="15.6" lengthAdjust="spacingAndGlyphs">(a)</text>
<text x="75.4" y="148.9" font-size="12.0" textLength="15.6" lengthAdjust="spacingAndGlyphs">(b)</text>
<text x="230.2" y="17.9" font-size="12.0" textLength="14.8" lengthAdjust="spacingAndGlyphs">(c)</text>
<text x="229.3" y="148.2" font-size="12.0" textLength="15.6" lengthAdjust="spacingAndGlyphs">(d)</text>
<text x="69.6" y="118.4" font-size="9.4" style="stroke-width:0.18px">(Q<tspan dy="3.2" dx="0.4" font-size="5.6">h</tspan><tspan dy="-3.2" dx="0.8">,Q</tspan><tspan dy="3.2" dx="0.4" font-size="5.6">h</tspan><tspan dy="-3.2" dx="0.8">,Q</tspan><tspan dy="3.2" dx="0.4" font-size="5.6">l</tspan><tspan dy="-3.2" dx="0.8">)=(</tspan><tspan letter-spacing="0">0.5, 0.5, 0)</tspan></text>
<text x="255.0" y="16.9" font-size="9.4" style="stroke-width:0.18px">(Q<tspan dy="3.2" dx="0.4" font-size="5.6">h</tspan><tspan dy="-3.2" dx="0.8">,Q</tspan><tspan dy="3.2" dx="0.4" font-size="5.6">h</tspan><tspan dy="-3.2" dx="0.8">,Q</tspan><tspan dy="3.2" dx="0.4" font-size="5.6">l</tspan><tspan dy="-3.2" dx="0.8">)=(</tspan><tspan letter-spacing="0">0.5, 0.5, 0.5)</tspan></text>
<text x="72.9" y="245.6" font-size="9.4" style="stroke-width:0.18px">(Q<tspan dy="3.2" dx="0.4" font-size="5.6">h</tspan><tspan dy="-3.2" dx="0.8">,Q</tspan><tspan dy="3.2" dx="0.4" font-size="5.6">h</tspan><tspan dy="-3.2" dx="0.8">,Q</tspan><tspan dy="3.2" dx="0.4" font-size="5.6">l</tspan><tspan dy="-3.2" dx="0.8">)=(</tspan><tspan letter-spacing="0">0, 0, 0.5)</tspan></text>
<text x="260.4" y="245.6" font-size="9.4" style="stroke-width:0.18px">(Q<tspan dy="3.2" dx="0.4" font-size="5.6">h</tspan><tspan dy="-3.2" dx="0.8">,Q</tspan><tspan dy="3.2" dx="0.4" font-size="5.6">h</tspan><tspan dy="-3.2" dx="0.8">,Q</tspan><tspan dy="3.2" dx="0.4" font-size="5.6">l</tspan><tspan dy="-3.2" dx="0.8">)=(</tspan><tspan letter-spacing="0">0, 0, 1)</tspan></text>
<text x="77.2" y="209.6" font-size="11.8" textLength="64" lengthAdjust="spacingAndGlyphs">CePd<tspan dy="4.4" font-size="6.6">3</tspan><tspan dy="-4.4" dx="0.6"> T = 7 K</tspan></text>
<text x="77.4" y="226.1" font-size="11.8" textLength="94.5" lengthAdjust="spacingAndGlyphs">E<tspan dy="3.9" font-size="6.6">i</tspan><tspan dy="-3.9" dx="0.3"> = 120 meV, k</tspan><tspan dy="3.9" font-size="6.6">i</tspan><tspan dy="-3.9">//110</tspan></text>
<text x="178" y="286" font-size="14.6">ΔE (meV)</text>
<text transform="translate(16.9,204.3) rotate(-90)" font-size="14.8">S</text>
<text transform="translate(21.1,196.4) rotate(-90)" font-size="9.3">magn</text>
<text transform="translate(16.9,172.5) rotate(-90)" font-size="14.4">/</text>
<text transform="translate(16.9,164.5) rotate(-90)" font-size="14.4">f</text>
<text transform="translate(8.0,158.2) rotate(-90)" font-size="9">2</text>
<text transform="translate(16.9,152.0) rotate(-90)" font-size="14.8">(Q) (mb/sr-meV)</text>
</svg></body></html>
